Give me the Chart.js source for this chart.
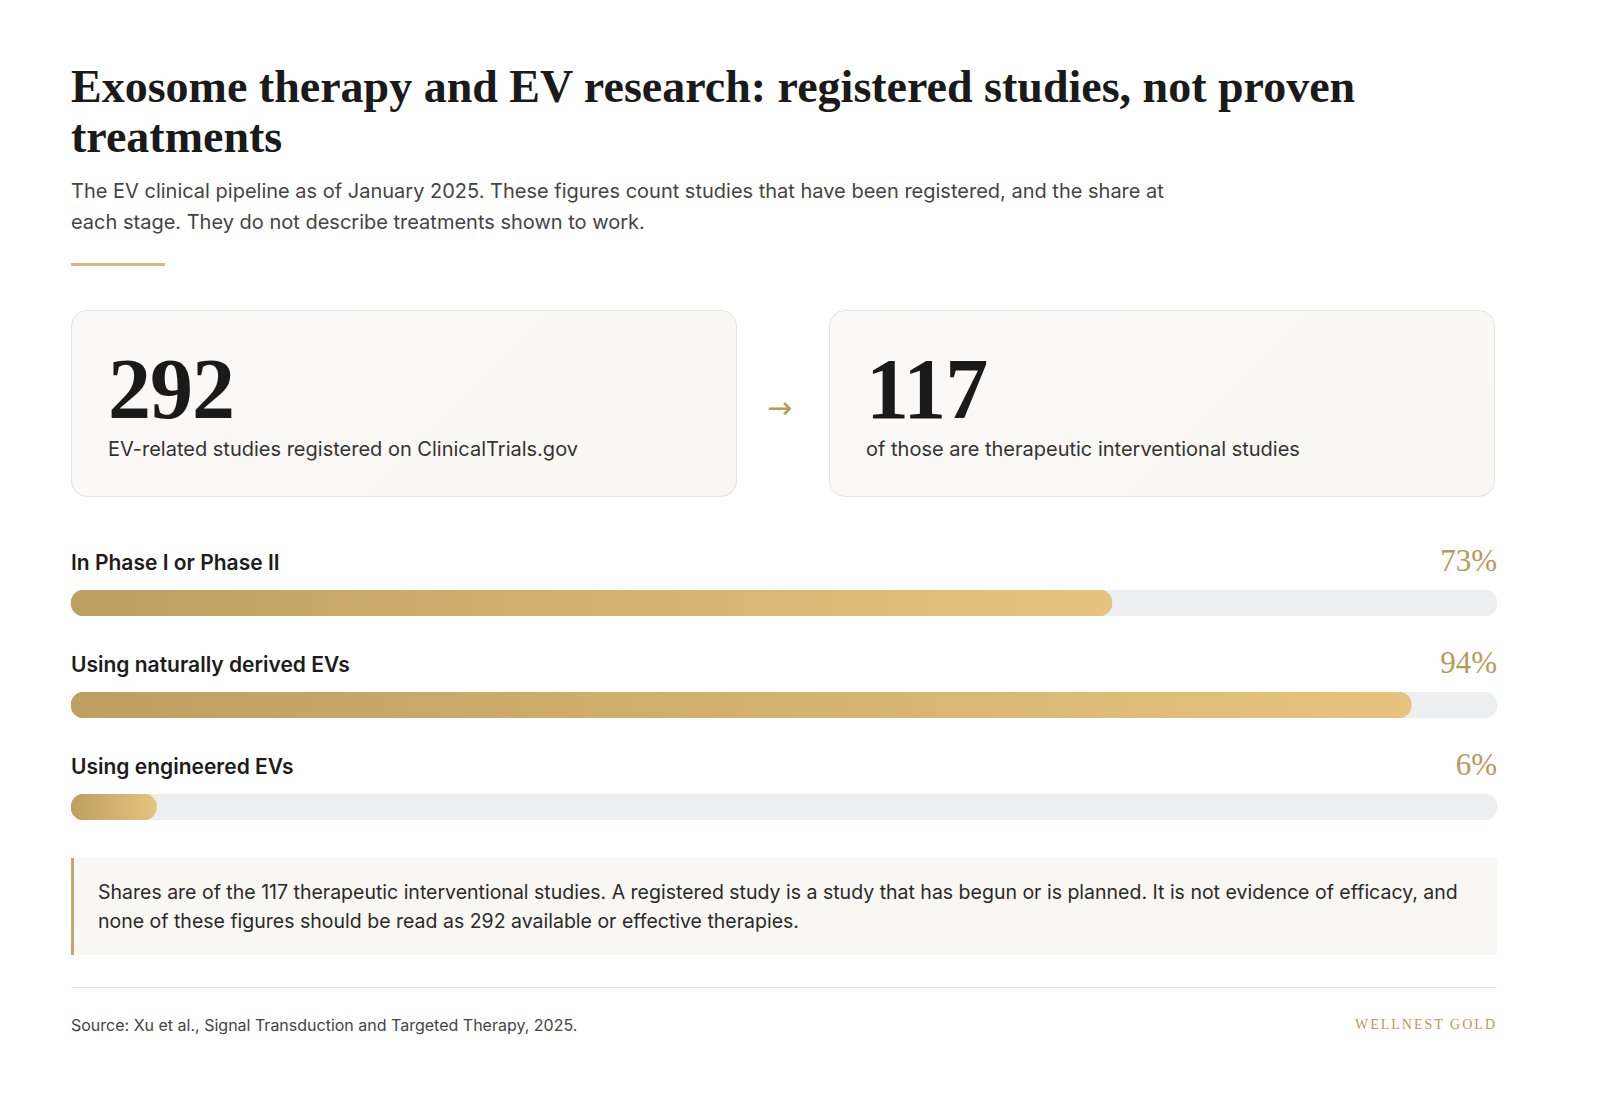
<!DOCTYPE html>
<html><head><meta charset="utf-8">
<script src="https://cdn.jsdelivr.net/npm/chart.js@4"></script>
<style>
body{margin:0;background:#fff;font-family:Inter,"Noto Sans",sans-serif;color:#1c1c1c;}
.wrap{position:absolute;left:71px;top:0;width:1426px;}
h1{position:absolute;top:62px;left:0;margin:0;font-family:"Liberation Serif",serif;font-weight:bold;font-size:46px;line-height:50px;color:#1a1a1a;width:1400px;}
.sub{position:absolute;top:176px;left:0;font-size:20px;line-height:31px;color:#444;width:1120px;}
.rule{position:absolute;top:263px;left:0;width:94px;height:3px;background:#d4bb84;}
.card{position:absolute;top:310px;height:187px;width:666px;border:1px solid #e6e3dc;border-radius:16px;background:linear-gradient(135deg,#fbfaf8,#f8f7f4);box-sizing:border-box;}
.card .n{position:absolute;left:36px;top:28px;font-family:"Liberation Serif",serif;font-weight:bold;font-size:86px;letter-spacing:-1px;color:#1a1a1a;}
.card .l{position:absolute;left:36px;top:126px;font-size:20px;color:#333;}
.arrow{position:absolute;top:390px;left:696px;font-size:30px;color:#b89a5a;font-family:"DejaVu Sans";}
.lab{position:absolute;left:0;font-size:21px;font-weight:600;color:#1c1c1c;}
.pct{position:absolute;right:0;font-family:"Liberation Serif",serif;font-size:31px;color:#b89a5a;}
.bar{position:absolute;left:0;width:1426px;height:26px;}
.note{position:absolute;top:858px;left:0;width:1426px;height:97px;background:#f8f7f4;border-left:3px solid #c4a66a;box-sizing:border-box;padding:20px 24px;font-size:19.5px;line-height:29px;color:#2a2a2a;}
.hr{position:absolute;top:987px;left:0;width:1426px;height:1px;background:#e6e6e6;}
.src{position:absolute;top:1015px;left:0;font-size:16px;color:#444;}
.brand{position:absolute;top:1017px;right:0;font-family:"Liberation Serif",serif;font-size:14px;letter-spacing:2px;color:#b89a5a;}
</style></head><body>
<div class="wrap">
<h1>Exosome therapy and EV research: registered studies, not proven treatments</h1>
<div class="sub">The EV clinical pipeline as of January 2025. These figures count studies that have been registered, and the share at each stage. They do not describe treatments shown to work.</div>
<div class="rule"></div>
<div class="card" style="left:0"><div class="n" id="n0"></div><div class="l" id="l0"></div></div>
<div class="arrow">→</div>
<div class="card" style="left:758px"><div class="n" id="n1"></div><div class="l" id="l1"></div></div>
<div id="bars"></div>
<div class="note">Shares are of the 117 therapeutic interventional studies. A registered study is a study that has begun or is planned. It is not evidence of efficacy, and none of these figures should be read as 292 available or effective therapies.</div>
<div class="hr"></div>
<div class="src">Source: Xu et al., Signal Transduction and Targeted Therapy, 2025.</div>
<div class="brand">WELLNEST GOLD</div>
</div>
<script>
const statValues=[292,117];
const statLabels=["EV-related studies registered on ClinicalTrials.gov","of those are therapeutic interventional studies"];
const categories=["In Phase I or Phase II","Using naturally derived EVs","Using engineered EVs"];
const shares=[73,94,6];
statValues.forEach((v,i)=>{document.getElementById('n'+i).textContent=v;document.getElementById('l'+i).textContent=statLabels[i];});
const bars=document.getElementById('bars');
categories.forEach((c,i)=>{
  const top=550+i*102;
  bars.insertAdjacentHTML('beforeend',`<div class="lab" style="top:${top}px">${c}</div><div class="pct" style="top:${top-7}px">${shares[i]}%</div><div class="bar" style="top:${top+40}px"><canvas id="c${i}"></canvas></div>`);
  new Chart(document.getElementById('c'+i),{type:'bar',
    data:{labels:[c],datasets:[
      {data:[shares[i]],backgroundColor:(ctx)=>{const a=ctx.chart.chartArea;if(!a)return '#c9a965';const g=ctx.chart.ctx.createLinearGradient(a.left,0,ctx.chart.scales.x.getPixelForValue(shares[i]),0);g.addColorStop(0,'#bf9f5f');g.addColorStop(1,'#e6c47f');return g;},borderRadius:13,borderSkipped:false,grouped:false,categoryPercentage:1,barPercentage:1,order:0},
      {data:[100],backgroundColor:'#eceeef',borderRadius:13,borderSkipped:false,grouped:false,categoryPercentage:1,barPercentage:1,order:1}]},
    options:{indexAxis:'y',responsive:true,maintainAspectRatio:false,animation:false,layout:{padding:0},
      plugins:{legend:{display:false},tooltip:{enabled:false}},
      scales:{x:{display:false,min:0,max:100},y:{display:false}}}});
});
</script>
</body></html>
